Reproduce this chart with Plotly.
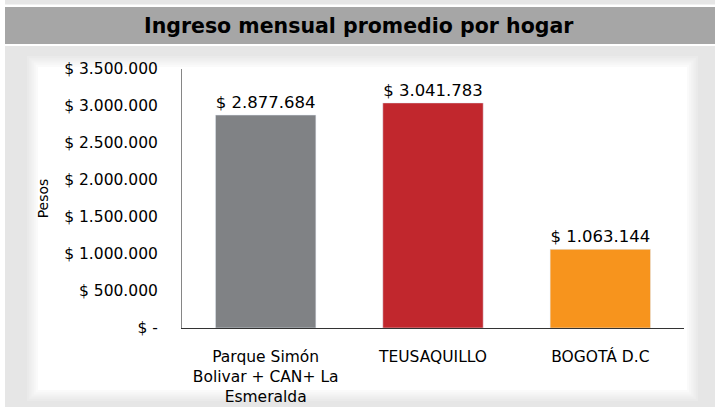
import plotly.graph_objects as go

categories = ["Parque Simón<br>Bolivar + CAN+ La<br>Esmeralda", "TEUSAQUILLO", "BOGOTÁ D.C"]
values = [2877684, 3041783, 1063144]
bar_colors = ["#808285", "#c1272d", "#f7941d"]
tick_vals = [0, 500000, 1000000, 1500000, 2000000, 2500000, 3000000, 3500000]
tick_text = ["$ -", "$ 500.000", "$ 1.000.000", "$ 1.500.000", "$ 2.000.000",
             "$ 2.500.000", "$ 3.000.000", "$ 3.500.000"]
title_text = "Ingreso mensual promedio por hogar"

labels = ["$ " + f"{v:,}".replace(",", ".") for v in values]

W, H = 715, 407
L, R, T, B = 182, 31, 69, 79
pw, ph = W - L - R, H - T - B

def px(x):
    return (x - L) / pw

def py(y):
    return (H - B - y) / ph

def rect(x0, y0, x1, y1, color):
    return dict(type="rect", xref="paper", yref="paper", x0=px(x0), x1=px(x1),
                y0=py(y1), y1=py(y0), fillcolor=color, line=dict(width=0), layer="below")

FONT = "DejaVu Sans"
BG = "#e6e6e6"

fig = go.Figure(go.Bar(
    x=categories, y=values, marker_color=bar_colors, width=0.6,
    text=labels, textposition="outside", cliponaxis=False,
    textfont=dict(size=16.5, color="#000000", family=FONT),
))

shapes = [
    rect(5, 0, 715, 4.5, BG),
    rect(5, 7, 715, 44, "#a6a6a6"),
    rect(5, 46, 715, 407, BG),
]
# soft-edged white panel
fade = ["#eaeaea", "#eeeeee", "#f2f2f2", "#f6f6f6", "#fafafa", "#ffffff"]
for i, c in enumerate(fade):
    d = 2.2 * i
    shapes.append(rect(27 + d, 56 + d, 698 - d, 401 - d, c))

fig.update_layout(
    width=W, height=H,
    margin=dict(l=L, r=R, t=T, b=B, autoexpand=False),
    paper_bgcolor="#ffffff", plot_bgcolor="#ffffff",
    font=dict(family=FONT, color="#000000"),
    showlegend=False,
    shapes=shapes,
    annotations=[
        dict(text="<b>" + title_text + "</b>", xref="paper", yref="paper",
             x=px(359), y=py(26), xanchor="center", yanchor="middle",
             showarrow=False, font=dict(size=20.5, color="#000000", family=FONT)),
    ],
    bargap=0.4,
)
fig.update_yaxes(
    range=[0, 3500000], tickvals=tick_vals, ticktext=tick_text, automargin=False,
    tickfont=dict(size=15.5, color="#000000"), showgrid=False, zeroline=False,
    showline=True, linecolor="#868686", linewidth=1, ticks="", ticklabelstandoff=20,
    title=dict(text="Pesos", font=dict(size=14, color="#000000"), standoff=12),
)
fig.update_xaxes(
    tickfont=dict(size=15.5, color="#000000"), showline=True, linecolor="#333333",
    linewidth=1, ticks="", ticklabelstandoff=14, showgrid=False, automargin=False,
)

fig.write_html("out.html", config={"displayModeBar": False},
               post_script="document.body.style.margin='0';document.body.style.overflow='hidden';")
